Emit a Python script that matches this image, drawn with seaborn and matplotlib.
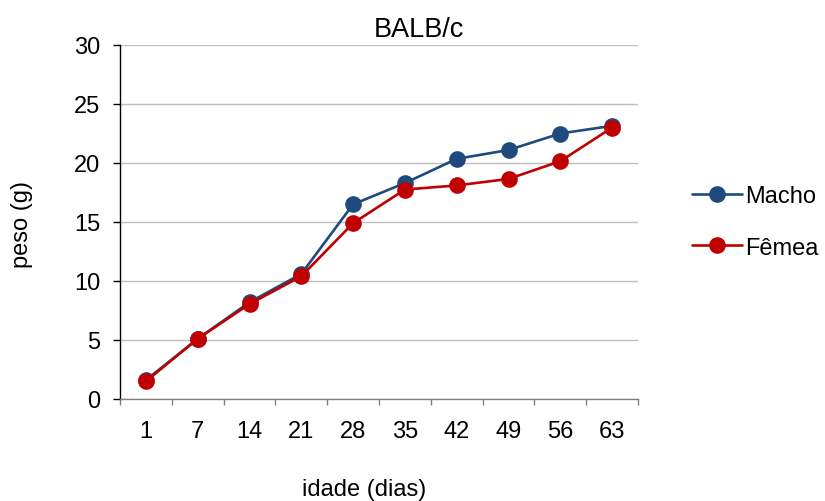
import pandas as pd
import numpy as np
import matplotlib
matplotlib.use("Agg")
import matplotlib.pyplot as plt
import seaborn as sns
from matplotlib.ticker import FixedLocator

# ----------------------------------------------------
# Data
# ----------------------------------------------------
idade = ["1", "7", "14", "21", "28", "35", "42", "49", "56", "63"]
macho = [1.6, 5.1, 8.2, 10.6, 16.5, 18.3, 20.35, 21.1, 22.5, 23.15]
femea = [1.5, 5.1, 8.05, 10.4, 14.9, 17.75, 18.1, 18.65, 20.15, 23.0]
series_names = ["Macho", "Fêmea"]
colors = ["#1F4A7E", "#C00000"]

df = pd.DataFrame({
    "idade": idade * 2,
    "peso": macho + femea,
    "sexo": [series_names[0]] * len(idade) + [series_names[1]] * len(idade),
})

sns.set_style("white")
plt.rcParams["font.family"] = ["Liberation Sans", "DejaVu Sans"]
plt.rcParams["text.color"] = "black"
plt.rcParams["axes.labelcolor"] = "black"
plt.rcParams["xtick.color"] = "black"
plt.rcParams["ytick.color"] = "black"

FS = 17

fig = plt.figure(figsize=(8.25, 5.02), dpi=100)
ax = fig.add_axes([120 / 825, 1 - 400 / 502, 518 / 825, 354 / 502])

sns.lineplot(
    data=df, x="idade", y="peso", hue="sexo", palette=colors,
    marker="o", markersize=12, markeredgewidth=0, linewidth=1.9,
    sort=False, ax=ax, legend=False,
)

# axes styling (Excel look)
ax.set_xlim(-0.5, len(idade) - 0.5)
ax.set_ylim(0, 30)
ax.set_yticks(np.arange(0, 31, 5))
ax.yaxis.grid(True, color="#BFBFBF", linewidth=1)
ax.set_axisbelow(True)
for side in ["top", "right"]:
    ax.spines[side].set_visible(False)
ax.spines["left"].set_color("black")
ax.spines["bottom"].set_color("#808080")
ax.spines["left"].set_linewidth(1)
ax.spines["bottom"].set_linewidth(1)

ax.xaxis.set_minor_locator(FixedLocator(np.arange(-0.5, len(idade), 1)))
ax.tick_params(axis="x", which="major", length=0, pad=15, labelsize=FS)
ax.tick_params(axis="x", which="minor", length=4, color="#808080", width=1, bottom=True)
ax.tick_params(axis="y", which="major", length=5, color="black", width=1, left=True,
               labelsize=FS, pad=9)

fig.text(419 / 825, 1 - 30 / 502, "BALB/c", fontsize=19.5, ha="center", va="center")

ax.set_xlabel("idade (dias)", fontsize=FS)
ax.xaxis.label.set_va("center")
ax.xaxis.set_label_coords((364 - 120) / 518, -(490 - 400) / 354)
ax.set_ylabel("peso (g)", fontsize=FS)
ax.yaxis.label.set_va("center")
ax.yaxis.set_label_coords((22 - 120) / 518, (400 - 225) / 354)

# legend on the right
handles = [
    plt.Line2D([], [], color=c, marker="o", markersize=12, markeredgewidth=0, linewidth=1.9)
    for c in colors
]
fig.legend(
    handles, series_names, loc="center left", bbox_to_anchor=(692 / 825, 1 - 223 / 502),
    frameon=False, fontsize=FS, handlelength=2.1, handletextpad=0.15, labelspacing=1.25,
    borderpad=0, borderaxespad=0,
)

fig.savefig("out.png", dpi=100)
plt.close(fig)
